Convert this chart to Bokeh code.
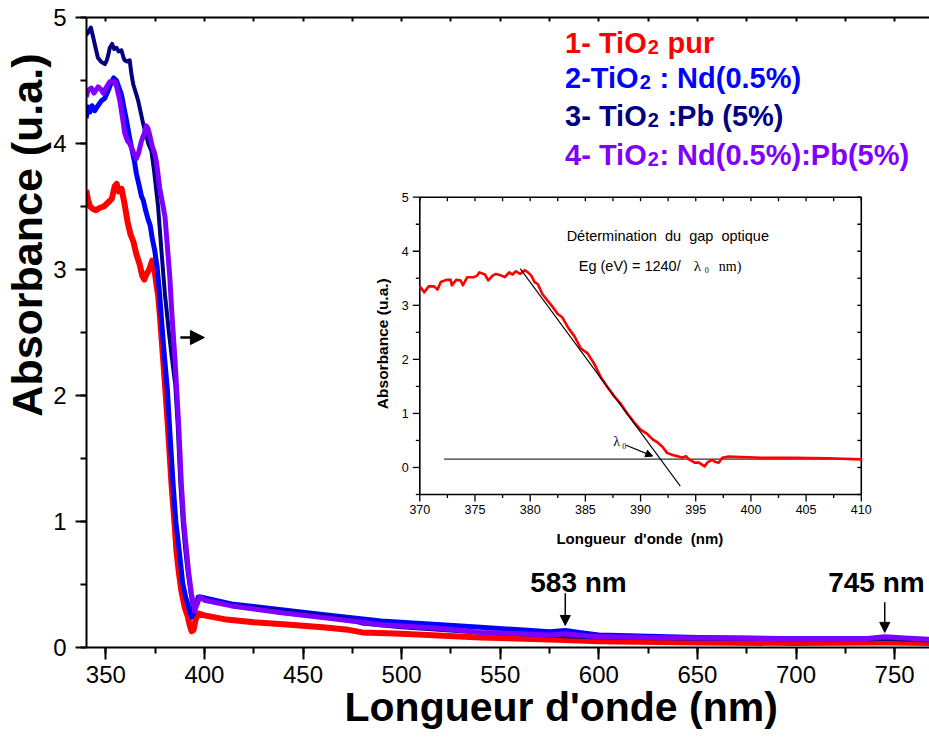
from bokeh.plotting import figure
from bokeh.models import (Range1d, LinearAxis, SingleIntervalTicker, Title, Arrow,
                          NormalHead, CustomJSTickFormatter)
from bokeh.core.properties import value
from bokeh.embed import file_html
from bokeh.resources import INLINE

# ---------------- main spectra: wavelength (nm) / absorbance (u.a.) ----------------
RED_WL = [340, 341, 342, 343.5, 345, 347, 349, 351, 353, 354.5, 355.5, 356.5, 358, 359.5, 361,
          362.5, 364, 365.5, 367, 368.5, 369.5, 370.5, 372, 373.5, 374.5, 375.5, 376.5, 377.5,
          379, 380, 381.5, 383.3, 385, 385.8, 387, 388.3, 390, 391.5, 392.5, 393.5, 394.5,
          395.5, 396.8, 400, 410, 425, 440, 460, 473, 480, 500, 540, 583, 600, 650, 700, 745, 768]
RED_A = [3.63, 3.55, 3.50, 3.48, 3.47, 3.49, 3.50, 3.53, 3.56, 3.66, 3.68, 3.62, 3.64, 3.52, 3.38,
         3.28, 3.22, 3.12, 3.05, 2.95, 2.92, 2.96, 3.00, 3.07, 3.02, 2.90, 2.80, 2.62,
         2.30, 2.09, 1.75, 1.30, 0.95, 0.77, 0.60, 0.45, 0.32, 0.25, 0.18, 0.13, 0.14,
         0.22, 0.27, 0.255, 0.225, 0.20, 0.185, 0.16, 0.14, 0.12, 0.11, 0.08, 0.06, 0.05, 0.04,
         0.035, 0.04, 0.035]

BLUE_WL = [340, 341, 342, 343, 344.4, 346, 347.8, 349.5, 351.2, 352.9, 354, 355.4, 356.5, 357.9,
           359, 360.5, 362, 363, 364.5, 365.5, 367, 368.1, 369, 370, 371.4, 372.5, 373.5, 374.8,
           376, 377.3, 378.5, 379.5, 381.2, 382.7, 384.1, 385.5, 387.2, 389, 390.5, 391.8, 393.4,
           394.5, 395.5, 396.8, 398.5, 413.7, 439, 464.3, 489.6, 520, 540, 560, 575, 583, 590,
           600, 625, 650, 700, 740, 745, 768]
BLUE_A = [4.20, 4.29, 4.25, 4.30, 4.26, 4.30, 4.34, 4.36, 4.42, 4.49, 4.52, 4.50, 4.45, 4.39,
          4.30, 4.18, 4.05, 3.97, 3.86, 3.76, 3.66, 3.58, 3.55, 3.48, 3.40, 3.35, 3.25, 3.15,
          3.02, 2.80, 2.55, 2.35, 2.05, 1.65, 1.30, 1.00, 0.77, 0.51, 0.40, 0.33, 0.24,
          0.27, 0.32, 0.40, 0.40, 0.345, 0.30, 0.255, 0.21, 0.18, 0.16, 0.14, 0.125, 0.135, 0.12,
          0.10, 0.09, 0.08, 0.07, 0.07, 0.075, 0.06]

NAVY_WL = [340, 341, 342.4, 343.5, 344.8, 346, 347.5, 349.5, 350.5, 351.2, 352, 353.2, 354.2,
           355.4, 356.5, 357.9, 359, 359.6, 361, 362.1, 363, 363.9, 366.4, 368.9, 371.5, 373.1,
           374.5, 376.5, 378.2, 380, 382, 383.5, 385.2, 386.5, 387.8, 389, 390.3, 391.5, 393,
           394.5, 395.5, 397.5, 400, 413.7, 439, 464, 475, 480, 500, 540, 583, 600, 650, 700,
           745, 768]
NAVY_A = [4.86, 4.88, 4.92, 4.85, 4.76, 4.68, 4.65, 4.63, 4.66, 4.70, 4.76, 4.79, 4.75,
          4.76, 4.73, 4.74, 4.68, 4.66, 4.65, 4.66, 4.55, 4.47, 4.34, 4.16, 4.00, 3.94,
          3.78, 3.50, 3.15, 2.80, 2.50, 2.30, 2.09, 1.75, 1.30, 1.00, 0.77, 0.60, 0.43,
          0.29, 0.33, 0.40, 0.38, 0.335, 0.29, 0.245, 0.22, 0.19, 0.16, 0.12, 0.09, 0.08, 0.07,
          0.065, 0.07, 0.06]

VIOLET_WL = [340, 341, 342.7, 344, 346.1, 347.5, 348.7, 350, 352, 354.5, 355.5, 357.1, 358.5,
             359.6, 361, 362.1, 364, 365.5, 366.5, 368.1, 369.5, 370.5, 371.4, 372.5, 373.5,
             374.8, 375.7, 377.3, 380, 382.4, 383.5, 385, 385.8, 387, 388.3, 389.5, 390.9, 392,
             393.4, 395, 396, 397.6, 400, 413.7, 439, 464.3, 489.6, 520, 540, 560, 575, 583,
             595, 625, 700, 735, 745, 755, 768]
VIOLET_A = [4.37, 4.42, 4.44, 4.40, 4.45, 4.43, 4.40, 4.44, 4.49, 4.49, 4.45, 4.34, 4.20,
            4.08, 4.02, 4.00, 3.93, 3.88, 3.92, 4.02, 4.08, 4.14, 4.12, 4.05, 3.98,
            3.92, 3.85, 3.65, 3.42, 2.95, 2.65, 2.30, 2.09, 1.75, 1.30, 1.00, 0.77, 0.60,
            0.43, 0.29, 0.33, 0.40, 0.375, 0.33, 0.275, 0.23, 0.18, 0.15, 0.12, 0.11, 0.10, 0.11,
            0.09, 0.08, 0.07, 0.07, 0.085, 0.075, 0.065]

# ---------------- inset: pure TiO2 edge and gap construction ----------------
INSET_WL = [370, 370.4, 370.8, 371.3, 371.6, 371.9, 372.4, 372.8, 372.9, 373.3, 373.7, 373.9,
            374.3, 374.9, 375.2, 375.4, 375.9, 376.2, 376.6, 376.9, 377.4, 377.7, 378.1, 378.4,
            378.7, 379.1, 379.5, 379.8, 380.1, 380.4, 380.7, 381.1, 381.6, 382.0, 382.5, 382.9,
            383.4, 384.0, 384.6, 385.2, 385.8, 386.4, 387.0, 387.6, 388.2, 388.8, 389.4, 390.0,
            390.6, 391.1, 391.5, 392.0, 392.4, 392.9, 393.3, 393.8, 394.1, 394.4, 394.9, 395.3,
            395.8, 396.1, 396.5, 396.8, 397.1, 397.4, 397.9, 400.9, 403.9, 406.9, 410]
INSET_A = [3.35, 3.24, 3.35, 3.35, 3.29, 3.43, 3.47, 3.47, 3.37, 3.47, 3.46, 3.37,
           3.52, 3.52, 3.55, 3.61, 3.57, 3.46, 3.55, 3.58, 3.55, 3.52, 3.61, 3.57,
           3.63, 3.58, 3.65, 3.61, 3.55, 3.43, 3.39, 3.21, 3.08, 2.98, 2.84, 2.78,
           2.60, 2.43, 2.20, 2.11, 1.92, 1.67, 1.49, 1.32, 1.18, 1.00, 0.84, 0.70,
           0.62, 0.52, 0.47, 0.38, 0.27, 0.23, 0.21, 0.18, 0.21, 0.15, 0.09, 0.09,
           0.02, 0.10, 0.14, 0.10, 0.09, 0.18, 0.20, 0.18, 0.18, 0.17, 0.15]
TANGENT_X = [379.1, 393.6]
TANGENT_Y = [3.68, -0.345]
BASELINE_X = [372.2, 410]
BASELINE_Y = [0.153, 0.153]
LAMBDA0_ARROW = (388.7, 0.41, 391.1, 0.21)
INSET_XLIM = (370, 410)
INSET_YLIM = (-0.5, 5)
INSET_XTICKS = [370, 375, 380, 385, 390, 395, 400, 405, 410]
INSET_YTICKS = [0, 1, 2, 3, 4, 5]

LEGEND_PREFIX = ["1- TiO", "2-TiO", "3- TiO", "4- TiO"]
LEGEND_SUFFIX = [" pur", " : Nd(0.5%)", " :Pb (5%)", ": Nd(0.5%):Pb(5%)"]
PEAKS = [583, 745]

RED, BLUE, NAVY, VIOLET = "#ff0000", "#0000ff", "#000080", "#8000ff"
SANS = "Liberation Sans"
SERIF = "Liberation Serif"
NB = "\u00a0"

# ---------------- page geometry (px) ----------------
W, H = 929, 751
LEFT, TOP, BOTTOM = 85, 17, 104
FRAME_W, FRAME_H = W - LEFT, H - TOP - BOTTOM
X0, X1 = 340.2, 767.7

p = figure(width=W, height=H, x_range=Range1d(X0, X1), y_range=Range1d(0, 5),
           output_backend="svg", toolbar_location=None,
           min_border_left=LEFT, min_border_right=0, min_border_top=TOP,
           min_border_bottom=BOTTOM)
p.grid.visible = False
p.outline_line_color = None
p.background_fill_color = "white"
p.border_fill_color = "white"

xa = p.xaxis[0]
xa.ticker = SingleIntervalTicker(interval=50, num_minor_ticks=2)
ya = p.yaxis[0]
ya.ticker = SingleIntervalTicker(interval=1, num_minor_ticks=2)
for ax, out, minor_out, stand in ((xa, 12, 6, 6), (ya, 11, 6, 9)):
    ax.axis_line_width = 2
    ax.major_tick_line_width = 2
    ax.minor_tick_line_width = 2
    ax.major_tick_in = 0
    ax.minor_tick_in = 0
    ax.major_tick_out = out
    ax.minor_tick_out = minor_out
    ax.major_label_standoff = stand
    ax.major_label_text_font = SANS
    ax.major_label_text_font_size = "24px"
    ax.major_label_text_color = "black"
    ax.axis_line_color = "black"

top_axis = LinearAxis(ticker=SingleIntervalTicker(interval=25, num_minor_ticks=0),
                      formatter=CustomJSTickFormatter(code="return ''"),
                      major_label_text_font_size="0px", major_label_standoff=0,
                      major_tick_in=4, major_tick_out=0, minor_tick_in=0, minor_tick_out=0,
                      axis_line_width=2, major_tick_line_width=2)
p.add_layout(top_axis, "above")

# axis titles, placed as side titles so they can sit off-centre
p.add_layout(Title(text="Longueur d'onde (nm)", align="left", offset=258, standoff=-7,
                   text_font=SANS, text_font_style="bold", text_font_size="41px",
                   text_color="black"), "below")
p.add_layout(Title(text="Absorbance (u.a.)", align="right", offset=36, standoff=0,
                   text_font=SANS, text_font_style="bold", text_font_size="43px",
                   text_color="black"), "left")

# spectra
p.line(RED_WL, RED_A, line_color=RED, line_width=6, line_join="round")
p.line(BLUE_WL, BLUE_A, line_color=BLUE, line_width=5, line_join="round")
p.line(NAVY_WL, NAVY_A, line_color=NAVY, line_width=4, line_join="round")
p.line(VIOLET_WL, VIOLET_A, line_color=VIOLET, line_width=5, line_join="round")

# peak markers
for wl, y_top, y_end, cx in ((PEAKS[0], 0.43, 0.175, 589.7), (PEAKS[1], 0.36, 0.12, 740.8)):
    p.add_layout(Arrow(x_start=wl, y_start=y_top, x_end=wl, y_end=y_end, line_width=1.5,
                       end=NormalHead(size=10, fill_color="black", line_color="black")))
    p.text(x=[cx], y=[0.518], text=[f"{wl} nm"], text_font=value(SANS),
           text_font_style="bold", text_font_size="28px", text_align="center",
           text_baseline="alphabetic", text_color="black")
p.add_layout(Arrow(x_start=387.8, y_start=2.46, x_end=400, y_end=2.46, line_width=2.5,
                   end=NormalHead(size=14, fill_color="black", line_color="black")))

# legend (text with subscripted 2)
BOLD_EM = {'1': 556, '2': 556, '3': 556, '4': 556, '-': 333, ' ': 278, 'T': 611, 'i': 278,
           'O': 778}
FS, FS_SUB = 29, 20
leg_x = 582.9
leg_base = [4.794, 4.516, 4.221, 3.909]
for pre, suf, yb, col in zip(LEGEND_PREFIX, LEGEND_SUFFIX, leg_base, (RED, BLUE, NAVY, VIOLET)):
    w_pre = sum(BOLD_EM[c] for c in pre) / 1000 * FS
    w_sub = 0.556 * FS_SUB
    gap = 0.278 * FS if suf.startswith(" ") else 0
    common = dict(text_font=value(SANS), text_font_style="bold", text_align="left",
                  text_baseline="alphabetic", text_color=col)
    p.text(x=[leg_x], y=[yb], text=[pre], text_font_size=f"{FS}px", **common)
    p.text(x=[leg_x], y=[yb], x_offset=w_pre + 0.5, y_offset=4, text=["2"],
           text_font_size=f"{FS_SUB}px", **common)
    p.text(x=[leg_x], y=[yb], x_offset=w_pre + w_sub + 1 + gap, text=[suf.lstrip()],
           text_font_size=f"{FS}px", **common)

# ---------------- inset drawn on its own ranges ----------------
IN_L, IN_R, IN_T, IN_B = 418.7, 860.7, 196.7, 494.0   # page px of the inset frame
sx = (IN_R - IN_L) / (INSET_XLIM[1] - INSET_XLIM[0])
sy = (IN_B - IN_T) / (INSET_YLIM[1] - INSET_YLIM[0])
ix0 = INSET_XLIM[0] - (IN_L - LEFT) / sx
iy1 = INSET_YLIM[1] + (IN_T - TOP) / sy
p.extra_x_ranges = {"ix": Range1d(ix0, ix0 + FRAME_W / sx)}
p.extra_y_ranges = {"iy": Range1d(iy1 - FRAME_H / sy, iy1)}
IR = dict(x_range_name="ix", y_range_name="iy")

p.quad(left=[INSET_XLIM[0]], right=[INSET_XLIM[1]], bottom=[INSET_YLIM[0]],
       top=[INSET_YLIM[1]], fill_color="white", line_color="black", line_width=1.6, **IR)

xmaj = INSET_XTICKS
xmin = [v + 2.5 for v in INSET_XTICKS[:-1]]
ymaj = INSET_YTICKS
ymin = [v - 0.5 for v in INSET_YTICKS]
yb0, yt0 = INSET_YLIM
xl0, xr0 = INSET_XLIM
segs = []
for v in xmaj:
    segs.append((v, yb0, v, yb0 - 7 / sy))
    segs.append((v, yt0, v, yt0 - 4 / sy))
for v in xmin:
    segs.append((v, yb0, v, yb0 - 3.5 / sy))
    segs.append((v, yt0, v, yt0 - 4 / sy))
for v in ymaj:
    segs.append((xl0, v, xl0 - 7 / sx, v))
    segs.append((xr0, v, xr0 - 4 / sx, v))
for v in ymin:
    segs.append((xl0, v, xl0 - 4 / sx, v))
    segs.append((xr0, v, xr0 - 4 / sx, v))
p.segment(x0=[s[0] for s in segs], y0=[s[1] for s in segs], x1=[s[2] for s in segs],
          y1=[s[3] for s in segs], line_color="black", line_width=1.3, **IR)

p.text(x=xmaj, y=[yb0] * len(xmaj), text=[str(v) for v in xmaj], y_offset=10,
       text_font=value(SANS), text_font_size="12.5px", text_align="center",
       text_baseline="top", text_color="black", **IR)
p.text(x=[xl0] * len(ymaj), y=ymaj, text=[str(v) for v in ymaj], x_offset=-11,
       text_font=value(SANS), text_font_size="12.5px", text_align="right",
       text_baseline="middle", text_color="black", **IR)
p.text(x=[389.94], y=[yb0], y_offset=44, text=[f"Longueur {NB}d'onde {NB}(nm)"],
       text_font=value(SANS), text_font_style="bold", text_font_size="15px",
       text_align="center", text_baseline="alphabetic", text_color="black", **IR)
p.text(x=[xl0], y=[2.29], x_offset=-37, text=["Absorbance (u.a.)"], angle=1.5708,
       text_font=value(SANS), text_font_style="bold", text_font_size="15.5px",
       text_align="center", text_baseline="middle", text_color="black", **IR)

p.line(BASELINE_X, BASELINE_Y, line_color="#333333", line_width=1.2, **IR)
p.line(INSET_WL, INSET_A, line_color=RED, line_width=2.6, line_join="round", **IR)
p.line(TANGENT_X, TANGENT_Y, line_color="black", line_width=1.1, **IR)
p.add_layout(Arrow(x_start=LAMBDA0_ARROW[0], y_start=LAMBDA0_ARROW[1],
                   x_end=LAMBDA0_ARROW[2], y_end=LAMBDA0_ARROW[3], line_width=1.1,
                   end=NormalHead(size=7, fill_color="black", line_color="black"), **IR))

p.text(x=[392.47], y=[4.275], text=[f"Détermination {NB}du {NB}gap {NB}optique"],
       text_font=value(SANS), text_font_size="14.5px", text_align="center",
       text_baseline="alphabetic", text_color="black", **IR)
eg = dict(x=[384.4], y=[3.72], text_baseline="alphabetic", text_color="black",
          text_align="left", **IR)
p.text(text=["Eg (eV) = 1240/"], text_font=value(SANS), text_font_size="14.5px", **eg)
p.text(text=["λ"], x_offset=115, text_font=value(SERIF), text_font_size="15px", **eg)
p.text(text=["0"], x_offset=126, y_offset=4, text_font=value(SERIF),
       text_font_size="8px", **eg)
p.text(text=["nm)"], x_offset=140, text_font=value(SERIF), text_font_size="14px", **eg)
lam = dict(x=[387.52], y=[0.473], text_baseline="alphabetic", text_color="black",
           text_align="left", text_font=value(SERIF), **IR)
p.text(text=["λ"], text_font_size="14px", **lam)
p.text(text=["0"], x_offset=9, y_offset=4, text_font_size="8px", **lam)

open("out.html", "w").write(file_html(p, INLINE))
